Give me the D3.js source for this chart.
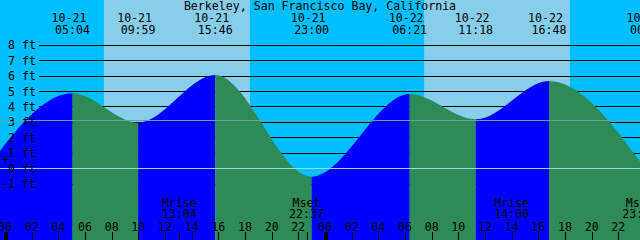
<!DOCTYPE html>
<meta charset="utf-8">
<style>
body { margin: 0; }
svg { display: block; }
text {
    font-family: "DejaVu Sans Mono", monospace;
    font-size: 11.6px;
    fill: black;
}
.grid line {
    stroke: black;
    stroke-width: 1;
    shape-rendering: crispEdges;
}
.ticks line {
    stroke: black;
    shape-rendering: crispEdges;
}
</style>
<svg width="640" height="240"></svg>
<script src="https://d3js.org/d3.v7.min.js"></script>
<script>

var title = "Berkeley, San Francisco Bay, California";

// High / low tides (first one is off the left edge)
var tideTimes = ["10-20 22:10", "10-21 05:04", "10-21 09:59", "10-21 15:46", "10-21 23:00",
                 "10-22 06:21", "10-22 11:18", "10-22 16:48", "10-23 00:11"];
var tideHeights = [-0.55, 4.89, 2.98, 6.07, -0.52, 4.84, 3.2, 5.68, -0.2];

// Sun, moon
var sunrises = ["10-21 07:25", "10-22 07:26"];
var sunsets = ["10-21 18:22", "10-22 18:22"];
var moonTimes = ["10-21 13:04", "10-21 22:37", "10-22 14:00", "10-22 23:36"];
var moonEvents = ["Mrise", "Mset", "Mrise", "Mset"];

// Levels
var footLevels = [-1, 0, 1, 2, 3, 4, 5, 6, 7, 8];
var meanLevel = 3.14;
var datumLevel = 0;

var start = "10-20 23:37:30", end = "10-22 23:37:30";

var parse = function(s) {
    return d3.utcParse("%Y-%m-%d %H:%M:%S")("2023-" + (s.length < 12 ? s + ":00" : s));
};

var svg = d3.select("svg"),
    width = +svg.attr("width"),
    height = +svg.attr("height");

var x = d3.scaleUtc()
    .domain([parse(start), parse(end)])
    .range([0, width]);

var y = d3.scaleLinear()
    .domain([-1, 8])
    .range([184.1, 45.3]);

var tides = tideTimes.map(function(t, i) {
    return { t: parse(t), h: tideHeights[i] };
});

// Night background, then daylight bands
svg.append("rect")
    .attr("width", width)
    .attr("height", height)
    .attr("fill", "#00bfff");

svg.selectAll(".day")
    .data(sunrises)
    .enter()
    .append("rect")
        .attr("class", "day")
        .attr("x", function(d) { return x(parse(d)); })
        .attr("width", function(d, i) { return x(parse(sunsets[i])) - x(parse(d)); })
        .attr("height", height)
        .attr("fill", "#87ceeb");

// Foot lines behind the water
svg.append("g")
    .attr("class", "grid")
    .selectAll("line")
    .data(footLevels)
    .enter()
    .append("line")
        .attr("x1", 39)
        .attr("x2", width)
        .attr("y1", function(d) { return Math.floor(y(d)) + 0.5; })
        .attr("y2", function(d) { return Math.floor(y(d)) + 0.5; });

// Water: area clipped, coloured by rising / falling
var area = d3.area()
    .curve(d3.curveMonotoneX)
    .x(function(d) { return x(d.t); })
    .y0(height)
    .y1(function(d) { return y(d.h); });

svg.append("clipPath")
    .attr("id", "water")
    .append("path")
        .attr("d", area(tides));

svg.append("g")
    .attr("clip-path", "url(#water)")
    .selectAll("rect")
    .data(tides.slice(0, -1))
    .enter()
    .append("rect")
        .attr("x", function(d) { return x(d.t); })
        .attr("width", function(d, i) { return x(tides[i + 1].t) - x(d.t); })
        .attr("height", height)
        .attr("fill", function(d, i) { return tides[i + 1].h > d.h ? "#0000ff" : "#2e8b57"; });

// Mean level and datum lines on top
svg.append("line")
    .attr("x1", 0).attr("x2", width)
    .attr("y1", Math.floor(y(meanLevel)) + 0.5)
    .attr("y2", Math.floor(y(meanLevel)) + 0.5)
    .attr("stroke", "#66a39a")
    .attr("shape-rendering", "crispEdges");

svg.append("line")
    .attr("x1", 0).attr("x2", width)
    .attr("y1", Math.floor(y(datumLevel)) + 0.5)
    .attr("y2", Math.floor(y(datumLevel)) + 0.5)
    .attr("stroke", "#9ad8ee")
    .attr("shape-rendering", "crispEdges");

// Foot labels
svg.selectAll(".ft")
    .data(footLevels)
    .enter()
    .append("text")
        .attr("class", "ft")
        .attr("x", 36)
        .attr("y", function(d) { return y(d) + 4; })
        .attr("text-anchor", "end")
        .text(function(d) { return d + " ft"; });

svg.append("text")
    .attr("x", 5)
    .attr("y", 164)
    .attr("text-anchor", "middle")
    .text("+");

// Title
svg.append("text")
    .attr("x", width / 2)
    .attr("y", 9.5)
    .attr("text-anchor", "middle")
    .text(title);

// Tide event labels along the top
var shown = tides.filter(function(d) { return x(d.t) >= 0; });
var fmtDate = d3.utcFormat("%m-%d"), fmtTime = d3.utcFormat("%H:%M");

svg.selectAll(".tdate")
    .data(shown)
    .enter()
    .append("text")
        .attr("class", "tdate")
        .attr("x", function(d) { return x(d.t) - 3.5; })
        .attr("y", 21.7)
        .attr("text-anchor", "middle")
        .text(function(d) { return fmtDate(d.t); });

svg.selectAll(".ttime")
    .data(shown)
    .enter()
    .append("text")
        .attr("class", "ttime")
        .attr("x", function(d) { return x(d.t); })
        .attr("y", 33.5)
        .attr("text-anchor", "middle")
        .text(function(d) { return fmtTime(d.t); });

// Moon events along the bottom
svg.selectAll(".moon")
    .data(moonTimes)
    .enter()
    .append("text")
        .attr("class", "moon")
        .attr("x", function(d) { return x(parse(d)); })
        .attr("y", 207)
        .attr("text-anchor", "middle")
        .text(function(d, i) { return moonEvents[i]; });

svg.selectAll(".mtime")
    .data(moonTimes)
    .enter()
    .append("text")
        .attr("class", "mtime")
        .attr("x", function(d) { return x(parse(d)); })
        .attr("y", 218)
        .attr("text-anchor", "middle")
        .text(function(d) { return fmtTime(parse(d)); });

// Hour axis
var hours = x.ticks(d3.utcHour.every(2));

svg.selectAll(".hr")
    .data(hours)
    .enter()
    .append("text")
        .attr("class", "hr")
        .attr("x", function(d) { return x(d); })
        .attr("y", 230.5)
        .attr("text-anchor", "middle")
        .text(d3.utcFormat("%H"));

var ticks = svg.append("g").attr("class", "ticks");

ticks.selectAll(".h")
    .data(hours)
    .enter()
    .append("line")
        .attr("x1", function(d) { return Math.round(x(d)) + 0.5; })
        .attr("x2", function(d) { return Math.round(x(d)) + 0.5; })
        .attr("y1", 232)
        .attr("y2", height)
        .attr("stroke-width", function(d) { return d.getUTCHours() === 0 ? 4 : 1; });

ticks.selectAll(".m")
    .data(moonTimes)
    .enter()
    .append("line")
        .attr("x1", function(d) { return Math.round(x(parse(d))) + 0.5; })
        .attr("x2", function(d) { return Math.round(x(parse(d))) + 0.5; })
        .attr("y1", 232)
        .attr("y2", height);

</script>
